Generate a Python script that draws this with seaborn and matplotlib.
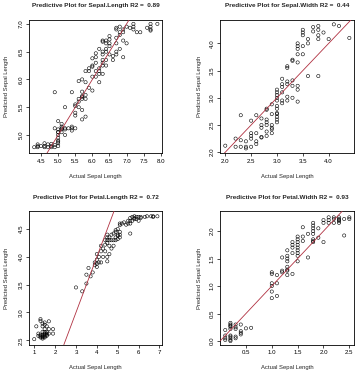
import matplotlib
matplotlib.use("Agg")
import matplotlib.pyplot as plt
import seaborn as sns
import pandas as pd

sns.set_style("white")
plt.rcParams['font.family'] = ['Liberation Sans', 'DejaVu Sans']

# ---------------- data ----------------
titles = ["Predictive Plot for Sepal.Length R2 =  0.89",
          "Predictive Plot for Sepal.Width R2 =  0.44",
          "Predictive Plot for Petal.Length R2 =  0.72",
          "Predictive Plot for Petal.Width R2 =  0.93"]
xlabel = "Actual Sepal Length"
ylabel = "Predicted Sepal Length"

sl_actual = [4.3,4.4,4.4,4.5,4.6,4.6,4.7,4.8,4.8,4.9,4.9,5.0,5.0,5.0,5.0,5.0,4.4,4.6,4.8,4.7,
             5.0,5.0,5.0,5.0,5.1,5.1,5.1,5.1,5.1,5.2,5.2,5.2,4.9,5.4,5.4,5.4,5.5,5.3,5.2,5.0,
             4.9,5.4,5.5,5.5,5.7,5.8,5.7,
             5.5,5.6,5.6,5.7,5.7,5.7,5.8,5.8,5.7,5.6,5.5,
             5.6,5.7,5.8,5.9,6.0,5.8,5.9,6.0,6.0,6.1,6.1,6.2,6.1,6.2,6.3,6.2,6.3,6.4,6.3,6.4,6.0,5.9,6.2,6.3,
             6.2,6.3,6.4,6.3,6.5,6.7,6.6,6.6,6.7,6.8,6.9,6.9,7.0,6.3,6.4,6.5,6.5,6.3,6.5,6.4,6.1,6.0,6.7,6.4,6.5,
             6.7,6.7,6.8,6.9,6.9,6.8,7.0,7.1,7.2,7.2,7.2,7.3,7.4,7.6,7.7,7.7,7.7,7.7,7.9,6.7,6.8,6.1]
sl_pred = [4.78,4.78,4.80,4.80,4.80,4.85,4.78,4.78,4.80,4.78,4.82,4.80,4.85,4.90,4.95,4.88,4.83,4.78,4.84,4.83,
           5.00,5.05,5.10,5.25,5.20,5.10,5.12,5.05,5.15,5.10,5.00,5.12,5.12,5.15,5.12,5.08,5.12,5.12,5.50,5.05,
           5.77,5.77,5.40,5.35,5.28,5.33,5.45,
           5.55,5.60,5.65,5.65,5.70,5.68,5.65,5.72,5.78,5.50,5.52,
           5.97,6.00,5.95,5.85,5.80,6.15,6.20,6.25,6.23,6.30,6.15,6.15,6.05,6.10,6.25,6.20,6.35,6.35,6.30,6.25,6.05,6.15,5.95,6.10,
           6.55,6.50,6.55,6.45,6.45,6.45,6.42,6.35,6.50,6.55,6.40,6.70,6.65,6.70,6.70,6.72,6.65,6.68,6.78,6.65,6.40,6.38,6.65,6.50,6.60,
           6.90,6.93,6.85,6.90,6.85,6.95,6.95,6.93,7.00,6.95,6.90,6.85,6.85,6.93,6.88,6.90,7.00,6.95,7.00,6.75,6.80,6.47]

sw_actual = [2.0,2.2,2.2,2.3,2.3,2.3,2.4,2.4,2.4,2.5,2.5,2.5,2.5,2.5,2.6,2.6,2.6,2.6,2.7,2.7,2.7,2.7,2.7,
             2.8,2.8,2.8,2.8,2.8,2.8,2.8,2.9,2.9,2.9,2.9,2.9,2.9,
             3.0,3.0,3.0,3.0,3.0,3.0,3.0,3.0,3.0,3.0,3.0,3.0,3.1,3.1,3.1,3.2,3.2,3.2,3.2,3.1,3.1,3.1,3.2,3.2,
             3.3,3.3,3.3,3.4,3.4,3.4,3.3,3.3,3.4,3.4,3.4,3.4,3.4,3.5,3.5,3.5,3.5,3.5,3.6,3.6,3.6,3.7,3.7,
             3.8,3.8,3.8,3.8,3.8,3.9,4.0,4.1,4.2,4.4]
sw_pred = [2.12,2.25,2.10,2.22,2.10,2.68,2.10,2.07,2.20,2.10,2.30,2.35,2.58,2.25,2.15,2.20,2.35,2.68,2.28,2.45,2.50,2.62,2.27,
           2.30,2.38,2.50,2.55,2.60,2.78,2.80,2.35,2.42,2.50,2.70,2.88,2.45,
           2.55,2.65,2.70,2.72,2.80,2.85,2.95,3.00,3.05,3.10,3.15,2.60,2.90,3.10,2.95,2.95,3.02,3.25,3.30,3.20,3.25,3.35,3.55,3.58,
           3.00,3.22,3.32,3.15,3.22,2.93,3.68,3.70,3.65,3.80,3.90,3.95,4.00,3.80,3.95,4.15,4.20,4.25,3.40,4.00,4.08,4.30,4.22,
           3.40,4.08,4.15,4.25,4.32,4.20,4.08,4.35,4.32,4.10]

pl_actual = [1.0,1.1,1.2,1.3,1.3,1.3,1.3,1.4,1.4,1.4,1.4,1.4,1.4,1.5,1.5,1.5,1.5,1.5,1.5,1.5,
             1.6,1.6,1.6,1.6,1.7,1.7,1.7,1.9,1.9,1.4,1.3,1.2,1.5,1.6,1.4,
             3.0,3.3,3.5,3.5,3.6,3.7,3.8,3.9,3.9,4.0,4.0,4.0,4.0,4.1,4.1,4.2,4.2,4.3,4.3,4.4,4.4,
             4.5,4.5,4.5,4.5,4.5,4.6,4.6,4.6,4.6,4.7,4.7,4.7,4.8,4.8,4.8,4.9,4.9,4.9,4.9,
             5.0,5.0,5.0,5.0,5.1,5.1,5.1,5.1,5.2,5.3,5.4,5.5,5.5,5.6,5.6,5.6,5.6,5.7,5.7,
             5.8,5.8,5.8,5.9,6.0,6.0,6.1,6.1,6.3,6.4,6.6,6.7,6.7,6.9,5.1,5.9,4.4,4.2,4.5]
pl_pred = [2.52,2.75,2.62,2.85,2.88,2.60,2.55,2.55,2.58,2.60,2.53,2.80,2.75,2.55,2.60,2.62,2.65,2.70,2.78,2.82,
           2.60,2.65,2.75,2.62,2.62,2.84,2.70,2.62,2.70,2.56,2.57,2.58,2.57,2.58,2.65,
           3.45,3.38,3.52,3.68,3.80,3.65,3.72,3.90,3.85,3.88,3.95,4.05,3.82,3.90,4.00,3.90,4.10,4.15,4.00,4.22,4.30,
           3.92,4.00,4.25,4.30,4.35,4.05,4.20,4.30,4.35,4.15,4.30,4.40,4.20,4.30,4.42,4.30,4.35,4.45,4.48,
           4.32,4.38,4.40,4.50,4.35,4.40,4.45,4.60,4.60,4.62,4.58,4.60,4.65,4.42,4.60,4.65,4.70,4.65,4.72,
           4.70,4.68,4.73,4.72,4.65,4.72,4.72,4.70,4.72,4.73,4.73,4.73,4.72,4.73,4.57,4.68,4.10,4.20,4.40]

pw_actual = [0.1,0.1,0.1,0.1,0.2,0.2,0.2,0.2,0.2,0.2,0.2,0.2,0.2,0.2,0.3,0.3,0.3,0.3,0.4,0.4,0.4,0.5,0.6,0.4,0.3,
             1.0,1.0,1.0,1.0,1.0,1.0,1.1,1.1,1.1,1.2,1.2,1.2,1.3,1.3,1.3,1.3,1.3,1.3,1.3,1.3,1.4,1.4,1.4,1.4,1.4,
             1.5,1.5,1.5,1.5,1.5,1.5,1.5,1.5,1.5,1.6,1.6,1.6,1.7,1.7,1.8,1.8,1.8,1.8,1.8,1.8,1.8,1.8,1.9,1.9,
             2.0,2.0,2.0,2.1,2.1,2.1,2.2,2.2,2.3,2.3,2.3,2.3,2.4,2.4,2.5,2.5,2.2,2.3]
pw_pred = [0.20,0.05,0.10,0.02,0.00,0.02,0.05,0.08,0.10,0.22,0.26,0.30,0.33,0.28,0.05,0.08,0.25,0.30,0.12,0.18,0.30,0.23,0.24,0.15,0.22,
           0.78,0.90,1.00,1.05,1.25,1.22,0.82,1.05,1.20,1.25,1.28,1.52,1.20,1.30,1.35,1.45,1.50,1.55,1.65,1.28,1.22,1.60,1.70,1.75,1.80,
           1.45,1.55,1.60,1.65,1.70,1.75,1.80,1.85,1.90,1.82,1.90,2.07,1.52,1.95,1.80,1.85,1.95,2.00,2.05,2.10,2.15,1.82,1.88,2.05,
           1.80,2.15,2.20,2.20,2.25,2.15,2.15,2.22,2.15,2.20,2.25,2.18,1.92,2.22,2.22,2.25,2.25,2.22]

xticks = [[4.5,5.0,5.5,6.0,6.5,7.0,7.5,8.0],[2.0,2.5,3.0,3.5,4.0],[1,2,3,4,5,6,7],[0.5,1.0,1.5,2.0,2.5]]
yticks = [[5.0,5.5,6.0,6.5,7.0],[2.0,2.5,3.0,3.5,4.0],[2.5,3.0,3.5,4.0,4.5],[0.0,0.5,1.0,1.5,2.0]]
xfmt = ["{:.1f}","{:.1f}","{:.0f}","{:.1f}"]

panels = [(sl_actual, sl_pred), (sw_actual, sw_pred), (pl_actual, pl_pred), (pw_actual, pw_pred)]
lims = [((4.156,8.044),(4.67,7.07)), ((1.904,4.496),(1.98,4.43)),
        ((0.764,7.136),(2.42,4.82)), ((0.004,2.596),(-0.067,2.36))]

W, H = 362, 384
fig = plt.figure(figsize=(W/100, H/100), dpi=100)
boxes = [(29.3, 20, 133, 133.3), (220.3, 20, 134, 133.3),
         (29.3, 211.3, 133, 133.4), (220.3, 211.3, 134, 133.4)]

for i, ((xa, yp), (x0, y0, w, h)) in enumerate(zip(panels, boxes)):
    ax = fig.add_axes([x0/W, 1-(y0+h)/H, w/W, h/H])
    df = pd.DataFrame({"actual": xa, "pred": yp})
    sns.scatterplot(data=df, x="actual", y="pred", ax=ax, marker="o", s=5.5,
                    facecolors="none", edgecolor="black", linewidth=0.4)
    ax.axline((0, 0), slope=1, color="#b03040", lw=0.6, zorder=3)
    ax.set_xlim(*lims[i][0]); ax.set_ylim(*lims[i][1])
    ax.set_xticks(xticks[i]); ax.set_yticks(yticks[i])
    ax.set_xticklabels([xfmt[i].format(t) for t in xticks[i]])
    ax.set_yticklabels(["{:.1f}".format(t) for t in yticks[i]], rotation=90, va="center")
    ax.tick_params(axis="both", direction="out", length=2.5, width=0.5, pad=1.5,
                   labelsize=4.4, colors="black", bottom=True, left=True)
    for sp in ax.spines.values():
        sp.set_visible(True); sp.set_color("black"); sp.set_linewidth(0.6)
    ax.set_xlabel(""); ax.set_ylabel("")
    cx = (x0 + w/2)/W
    fig.text(cx, 1-(y0-14)/H, titles[i], ha="center", va="center",
             fontsize=4.6, fontweight="bold")
    fig.text(cx, 1-(y0+h+23)/H, xlabel, ha="center", va="center", fontsize=4.2)
    lx = 6.5 if i % 2 == 0 else 199
    fig.text(lx/W, 1-(y0+h/2)/H, ylabel, ha="center", va="center",
             rotation=90, fontsize=4.2)

fig.savefig("out.png", dpi=100, facecolor="white")
